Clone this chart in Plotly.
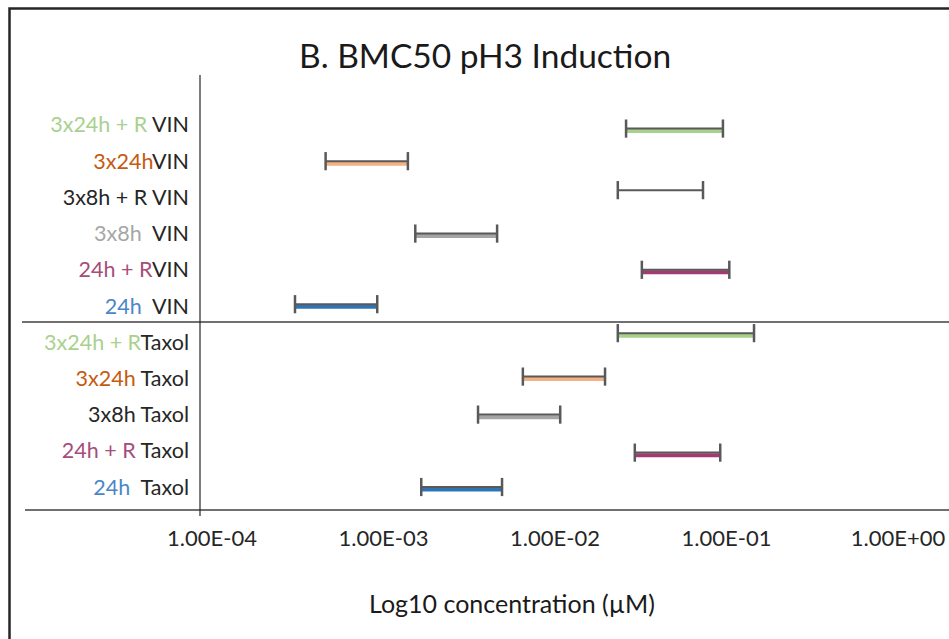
import plotly.graph_objects as go

# ---------------- data ----------------
conditions = ["24h", "24h + R", "3x8h", "3x24h", "3x24h + R",
              "24h", "24h + R", "3x8h", "3x8h + R", "3x24h", "3x24h + R"]
drugs = ["Taxol", "Taxol", "Taxol", "Taxol", "Taxol",
         "VIN", "VIN", "VIN", "VIN", "VIN", "VIN"]
label_sep = ["\u00a0\u00a0", "\u00a0", " ", " ", "",
             "\u00a0\u00a0", "", "\u00a0\u00a0", " ", "", " "]
row_pos = [0, 1, 2, 3, 4, 5, 6, 7, 8, 9, 10]
bar_y = [0.0, 0.95, 2.0, 3.05, 4.25, 5.05, 6.0, 7.0, 8.2, 9.0, 9.9]
bmc_low = [1.95e-3, 3.43e-2, 4.18e-3, 7.63e-3, 2.73e-2,
           3.58e-4, 3.77e-2, 1.80e-3, 2.73e-2, 5.40e-4, 3.05e-2]
bmc_high = [5.77e-3, 1.08e-1, 1.26e-2, 2.30e-2, 1.70e-1,
            1.08e-3, 1.22e-1, 5.40e-3, 8.57e-2, 1.63e-3, 1.12e-1]
label_colors = ["#4A86C8", "#A64D79", "#262626", "#C55A11", "#A9D18E",
                "#4A86C8", "#A64D79", "#A6A6A6", "#262626", "#C55A11", "#A9D18E"]
bar_colors = ["#2E75B6", "#A33B72", "#A5A5A5", "#F4B183", "#A9D18E",
              "#2E75B6", "#A33B72", "#A5A5A5", "rgba(0,0,0,0)", "#F4B183", "#A9D18E"]
x_tickvals = [1e-4, 1e-3, 1e-2, 1e-1, 1e0]
x_ticktext = ["1.00E-04", "1.00E-03", "1.00E-02", "1.00E-01", "1.00E+00"]
title_text = "B. BMC50 pH3 Induction"
xaxis_title = "Log10 concentration (\u00b5M)"

FONT = "Lato, 'Open Sans', sans-serif"
CAP = "#595959"
BAR_OFFSET = 0.07

fig = go.Figure()

for i in range(len(conditions)):
    # coloured range bar
    fig.add_trace(go.Scatter(
        x=[bmc_low[i], bmc_high[i]], y=[bar_y[i] - BAR_OFFSET] * 2,
        mode="lines", line=dict(color=bar_colors[i], width=4),
        showlegend=False, hoverinfo="skip"))
    # dark range line with end caps
    fig.add_trace(go.Scatter(
        x=[bmc_low[i], bmc_high[i]], y=[bar_y[i]] * 2,
        mode="lines+markers", line=dict(color=CAP, width=2),
        marker=dict(symbol="line-ns", size=13, line=dict(color=CAP, width=2.5)),
        showlegend=False, hoverinfo="skip"))

ticktext = [f'<span style="color:{c}">{cond}</span>{sep}{d}'
            for cond, sep, d, c in zip(conditions, label_sep, drugs, label_colors)]

# geometry (screen pixels -> paper); body margin is removed below
W, H = 949, 639
L = 200          # screen x of 1E-04
T = 75           # screen y of plot top
BOT = 510        # screen y of plot bottom
B = H - BOT
pw = W - L
ph = BOT - T


def px_x(p):
    return (p - L) / pw


def px_y(p):
    return (BOT - p) / ph


shapes = [
    # outer chart border
    dict(type="rect", xref="paper", yref="paper",
         x0=px_x(9.5), x1=px_x(1200), y0=px_y(900), y1=px_y(8.5),
         line=dict(color="#262626", width=2.5), fillcolor="rgba(0,0,0,0)"),
    # separator VIN / Taxol
    dict(type="line", xref="paper", yref="paper",
         x0=px_x(22), x1=1.0, y0=px_y(322), y1=px_y(322),
         line=dict(color="#404040", width=1.5)),
    # bottom axis line
    dict(type="line", xref="paper", yref="paper",
         x0=px_x(25), x1=1.0, y0=0, y1=0,
         line=dict(color="#404040", width=1.5)),
    # vertical axis line
    dict(type="line", xref="paper", yref="paper",
         x0=0, x1=0, y0=px_y(516), y1=1.0,
         line=dict(color="#262626", width=1.2)),
]

fig.update_layout(
    width=W, height=H,
    margin=dict(l=L, r=0, t=T, b=B, pad=0),
    paper_bgcolor="white", plot_bgcolor="white",
    font=dict(family=FONT, color="#262626"),
    showlegend=False,
    hovermode=False,
    shapes=shapes,
    xaxis=dict(type="log", range=[-4, -4 + pw / 171.5],
               tickvals=x_tickvals, ticktext=x_ticktext,
               tickfont=dict(size=22, color="#262626", family=FONT),
               showgrid=False, zeroline=False, showline=False, ticks="",
               ticklabelshift=12, ticklabelstandoff=13),
    yaxis=dict(range=[-0.635, 11.38], tickvals=row_pos, ticktext=ticktext,
               tickfont=dict(size=21.5, color="#262626", family=FONT),
               showgrid=False, zeroline=False, showline=False, ticks="",
               ticklabelstandoff=10),
    annotations=[
        dict(text=title_text, xref="paper", yref="paper",
             x=px_x(485), y=px_y(55), xanchor="center", yanchor="middle",
             showarrow=False, font=dict(size=33.5, color="#1a1a1a", family=FONT)),
        dict(text=xaxis_title, xref="paper", yref="paper",
             x=px_x(512), y=px_y(603), xanchor="center", yanchor="middle",
             showarrow=False, font=dict(size=25, color="#1a1a1a", family=FONT)),
    ],
)

fig.write_html(
    "out.html",
    config={"displayModeBar": False, "staticPlot": True},
    post_script="document.body.style.margin='0px';document.body.style.overflow='hidden';",
)
